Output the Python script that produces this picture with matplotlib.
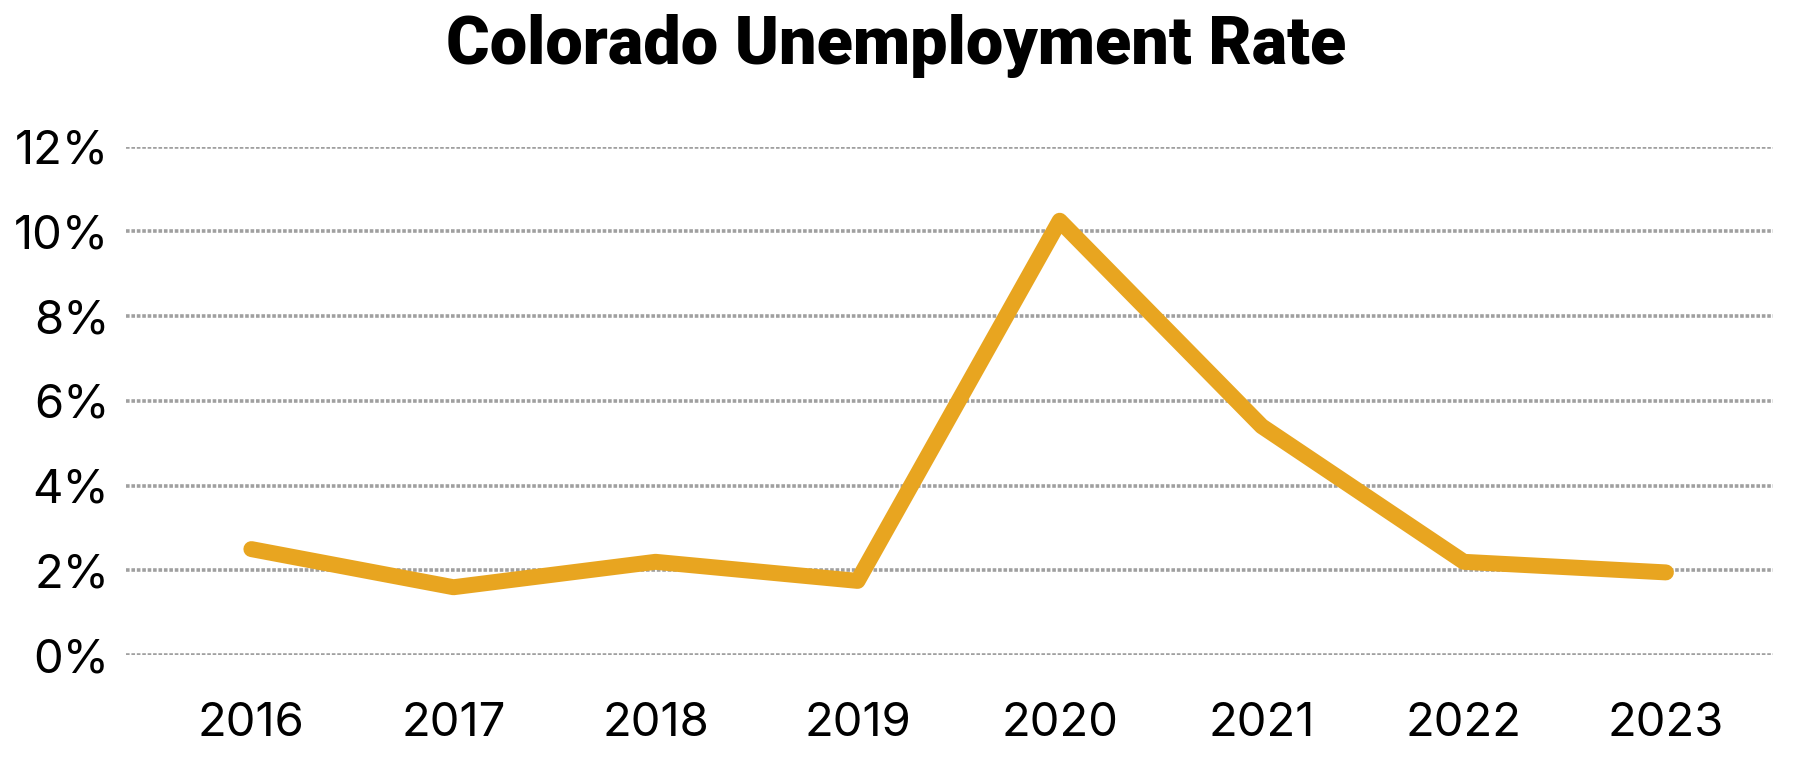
import matplotlib
matplotlib.use("Agg")
import matplotlib.pyplot as plt

years = ["2016", "2017", "2018", "2019", "2020", "2021", "2022", "2023"]
rate = [2.5, 1.6, 2.2, 1.75, 10.25, 5.4, 2.2, 1.95]
y_ticks = [0, 2, 4, 6, 8, 10, 12]

LINE = "#E8A520"
GRID = "#a0a0a0"

fig = plt.figure(figsize=(17.96, 7.68), dpi=100)
ax = fig.add_axes([0.0702, 0.1471, 0.917, 0.662])

x = list(range(len(years)))
for t in y_ticks:
    ax.axhline(t, color=GRID, linewidth=2.6, linestyle=(0, (1.0, 0.5)), zorder=1)

ax.plot(x, rate, color=LINE, linewidth=11.5, solid_capstyle="round",
        solid_joinstyle="round", zorder=3)

ax.set_xlim(-0.62, 7.53)
ax.set_ylim(0, 12)
ax.set_yticks(y_ticks)
ax.set_yticklabels([f"{t}%" for t in y_ticks], fontsize=34, family="Inter")
ax.set_xticks(x)
ax.set_xticklabels(years, fontsize=34, family="Inter")
ax.tick_params(axis="y", length=0, pad=12)
ax.tick_params(axis="x", length=0, pad=34)
for s in ax.spines.values():
    s.set_visible(False)

fig.text(0.499, 0.94, "Colorado Unemployment Rate", ha="center", va="center",
         fontsize=48, fontweight="black", family="Roboto")

plt.savefig("out.png", dpi=100, facecolor="white")
plt.close()
